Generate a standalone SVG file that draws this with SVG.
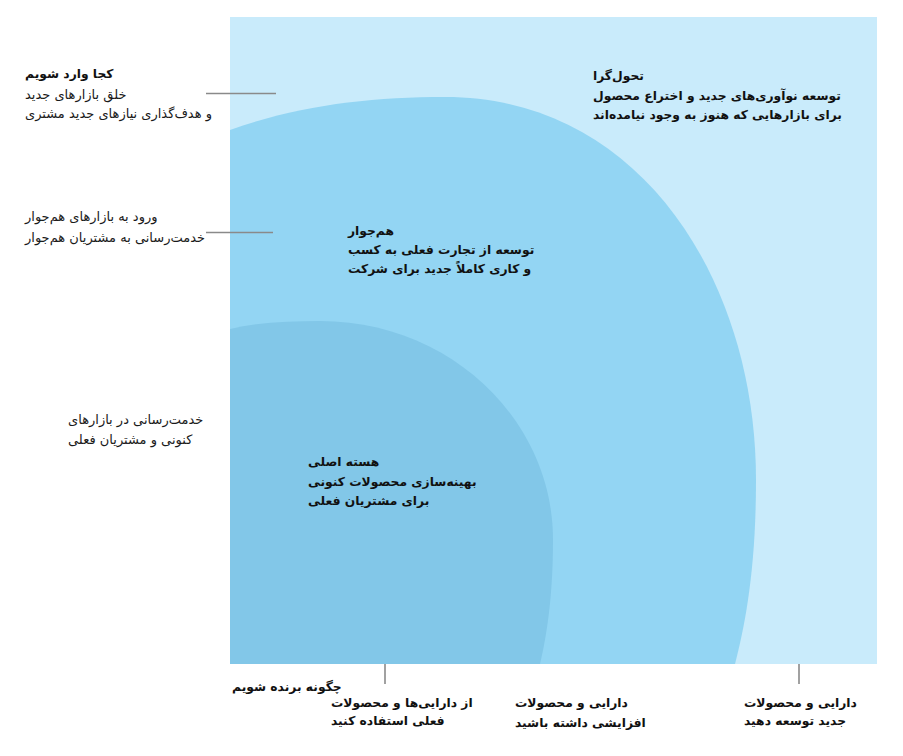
<svg xmlns="http://www.w3.org/2000/svg" width="903" height="756" viewBox="0 0 903 756">
<style>
text{font-family:"DejaVu Sans","Noto Sans",sans-serif;font-size:13px;fill:#1a1a1a}
.b{font-weight:bold;font-size:12.3px;fill:#111}
.lead{stroke:#8a8a8a;stroke-width:1.6;fill:none}
</style>
<rect width="903" height="756" fill="#ffffff"/>
<g id="transformational">
<rect x="230" y="17" width="647" height="647" fill="#c9ebfb"/>
<text class="b" x="593" y="80">تحول‌گرا</text>
<text class="b" x="593" y="100">توسعه نوآوری‌های جدید و اختراع محصول</text>
<text class="b" x="593" y="119">برای بازارهایی که هنوز به وجود نیامده‌اند</text>
</g>
<g id="adjacent">
<path d="M230,130 C300,105 370,97 445,97 C640,97 756,280 756,480 C756,570 745,625 735,664 L230,664 Z" fill="#93d5f3"/>
<text class="b" x="348" y="235">هم‌جوار</text>
<text class="b" x="348" y="254">توسعه از تجارت فعلی به کسب</text>
<text class="b" x="348" y="273">و کاری کاملاً جدید برای شرکت</text>
</g>
<g id="core">
<path d="M230,329 C260,322 290,321 320,321 C450,321 553,420 553,540 C553,590 548,630 540,664 L230,664 Z" fill="#82c7e8"/>
<text class="b" x="308" y="466">هسته اصلی</text>
<text class="b" x="308" y="486">بهینه‌سازی محصولات کنونی</text>
<text class="b" x="308" y="505">برای مشتریان فعلی</text>
</g>
<g id="connectors">
<line class="lead" x1="206" y1="93.5" x2="276" y2="93.5"/>
<line class="lead" x1="206" y1="232.5" x2="273" y2="232.5"/>
<line class="lead" x1="385" y1="664" x2="385" y2="684"/>
<line class="lead" x1="799" y1="664" x2="799" y2="684"/>
</g>
<g id="where-to-play">
<text class="b" x="25" y="78">کجا وارد شویم</text>
<text x="25" y="99">خلق بازارهای جدید</text>
<text x="25" y="118">و هدف‌گذاری نیازهای جدید مشتری</text>
</g>
<g id="adjacent-markets">
<text x="25" y="221">ورود به بازارهای هم‌جوار</text>
<text x="25" y="242">خدمت‌رسانی به مشتریان هم‌جوار</text>
</g>
<g id="current-markets">
<text x="68" y="424">خدمت‌رسانی در بازارهای</text>
<text x="68" y="444">کنونی و مشتریان فعلی</text>
</g>
<g id="how-to-win">
<text class="b" x="232" y="691">چگونه برنده شویم</text>
</g>
<g id="use-existing">
<text class="b" x="331" y="707">از دارایی‌ها و محصولات</text>
<text class="b" x="331" y="725">فعلی استفاده کنید</text>
</g>
<g id="incremental">
<text class="b" x="515" y="707">دارایی و محصولات</text>
<text class="b" x="515" y="727">افزایشی داشته باشید</text>
</g>
<g id="develop-new">
<text class="b" x="744" y="707">دارایی و محصولات</text>
<text class="b" x="744" y="725">جدید توسعه دهید</text>
</g>
</svg>
